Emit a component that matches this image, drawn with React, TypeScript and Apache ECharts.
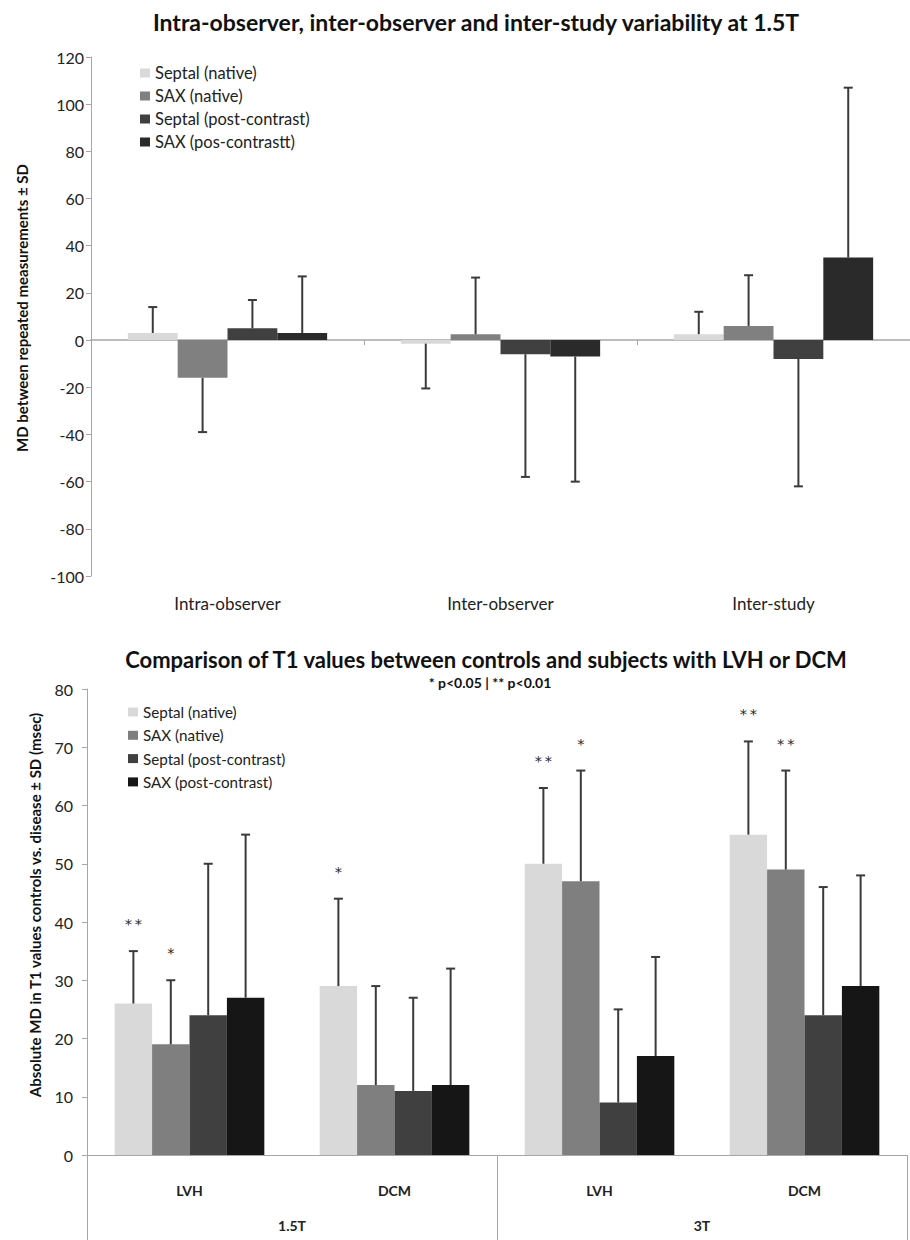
import React, { useEffect, useRef } from 'react';
import * as echarts from 'echarts';

// ---------- Top chart data ----------
const topCategories = ['Intra-observer', 'Inter-observer', 'Inter-study'];
const topSeriesNames = ['Septal (native)', 'SAX (native)', 'Septal (post-contrast)', 'SAX (pos-contrastt)'];
const topSeptalNative = [3, -1.5, 2.5];
const topSaxNative = [-16, 2.5, 6];
const topSeptalPost = [5, -6, -8];
const topSaxPost = [3, -7, 35];
const topSeptalNativeSD = [11, 19, 9.5];
const topSaxNativeSD = [23, 24, 21.5];
const topSeptalPostSD = [12, 52, 54];
const topSaxPostSD = [24, 53, 72];
const topYTicks = { min: -100, max: 120, interval: 20 };

// ---------- Bottom chart data ----------
const bottomCategories = ['LVH', 'DCM', 'LVH', 'DCM'];
const fieldStrengths = ['1.5T', '3T'];
const bottomSeriesNames = ['Septal (native)', 'SAX (native)', 'Septal (post-contrast)', 'SAX (post-contrast)'];
const botSeptalNative = [26, 29, 50, 55];
const botSaxNative = [19, 12, 47, 49];
const botSeptalPost = [24, 11, 9, 24];
const botSaxPost = [27, 12, 17, 29];
const botSeptalNativeSD = [9, 15, 13, 16];
const botSaxNativeSD = [11, 17, 19, 17];
const botSeptalPostSD = [26, 16, 16, 22];
const botSaxPostSD = [28, 20, 17, 19];
// number of asterisks (1: p<0.05, 2: p<0.01)
const botSeptalNativeStars = [2, 1, 2, 2];
const botSaxNativeStars = [1, 0, 1, 2];
const botSeptalPostStars = [0, 0, 0, 0];
const botSaxPostStars = [0, 0, 0, 0];
const bottomYTicks = { min: 0, max: 80, interval: 10 };

const topColors = ['#d9d9d9', '#808080', '#404040', '#2a2a2a'];
const bottomColors = ['#d9d9d9', '#7f7f7f', '#404040', '#161616'];

const FONT = 'Lato';
const AXIS_GRAY = '#a6a6a6';
const GAP = 0.27;

function errData(values: number[][], sds: number[][], stars?: number[][]) {
  const out: number[][] = [];
  values.forEach((vals, s) => {
    vals.forEach((v, c) => {
      const sign = v < 0 ? -1 : 1;
      out.push([c, s, v, v + sign * sds[s][c], stars ? stars[s][c] : 0]);
    });
  });
  return out;
}

const makeRender = (nSeries: number) => (params: any, api: any) => {
  const cat = api.value(0);
  const s = api.value(1);
  const mean = api.value(2);
  const end = api.value(3);
  const stars = api.value(4);
  const band = api.size([1, 0])[0];
  const groupW = band * (1 - GAP);
  const barW = groupW / nSeries;
  const base = api.coord([cat, mean]);
  const tip = api.coord([cat, end]);
  const x = base[0] - groupW / 2 + (s + 0.5) * barW;
  const children: any[] = [
    { type: 'line', shape: { x1: x, y1: base[1], x2: x, y2: tip[1] }, style: { stroke: '#3a3a3a', lineWidth: 2 } },
    { type: 'line', shape: { x1: x - 4.5, y1: tip[1], x2: x + 4.5, y2: tip[1] }, style: { stroke: '#3a3a3a', lineWidth: 2 } },
  ];
  if (stars > 0) {
    children.push({
      type: 'text',
      x,
      y: tip[1] - 27,
      style: {
        text: stars === 2 ? '*\u2009*' : '*',
        fill: '#2a2a2a',
        fontSize: 14.5,
        fontFamily: 'DejaVu Sans',
        align: 'center',
        verticalAlign: 'middle',
        textAlign: 'center',
        textVerticalAlign: 'middle',
      },
    });
  }
  return { type: 'group', children };
};

function buildOption() {
  const topVals = [topSeptalNative, topSaxNative, topSeptalPost, topSaxPost];
  const topSDs = [topSeptalNativeSD, topSaxNativeSD, topSeptalPostSD, topSaxPostSD];
  const botVals = [botSeptalNative, botSaxNative, botSeptalPost, botSaxPost];
  const botSDs = [botSeptalNativeSD, botSaxNativeSD, botSeptalPostSD, botSaxPostSD];
  const botStars = [botSeptalNativeStars, botSaxNativeStars, botSeptalPostStars, botSaxPostStars];

  const valueAxisCommon = (margin: number) => ({
    type: 'value',
    axisLine: { show: true, lineStyle: { color: AXIS_GRAY, width: 1 } },
    axisTick: { show: true, length: 5, lineStyle: { color: AXIS_GRAY } },
    splitLine: { show: false },
    axisLabel: { fontSize: 16, color: '#222', margin, fontFamily: FONT },
  });

  const boldText = (text: string, x: number, y: number, size: number, rot = 0) => ({
    type: 'text',
    x,
    y,
    rotation: rot,
    style: {
      text,
      fill: '#111',
      fontSize: size,
      fontWeight: 'bold',
      fontFamily: FONT,
      align: 'center',
      verticalAlign: 'middle',
      textAlign: 'center',
      textVerticalAlign: 'middle',
    },
  });

  const legendCommon = {
    orient: 'vertical',
    padding: 0,
    itemWidth: 10,
    itemHeight: 9,
    itemTextGap: 5,
    icon: 'rect',
    selectedMode: false,
  };

  return {
    animation: false,
    backgroundColor: '#ffffff',
    textStyle: { fontFamily: FONT },
    graphic: [
      boldText('Intra-observer, inter-observer and inter-study variability at 1.5T', 476, 22, 23),
      boldText('MD between repeated measurements ± SD', 22, 308, 15, Math.PI / 2),
      boldText('Comparison of T1 values between controls and subjects with LVH or DCM', 486, 659, 22),
      boldText('* p<0.05 | ** p<0.01', 490, 682, 14),
      boldText('Absolute MD in T1 values controls vs. disease ± SD (msec)', 35, 905, 15, Math.PI / 2),
    ],
    legend: [
      {
        ...legendCommon,
        left: 140,
        top: 64,
        itemGap: 5,
        textStyle: { fontSize: 16.5, color: '#222', lineHeight: 18, fontFamily: FONT },
        data: topSeriesNames.map((n, i) => ({ name: n, itemStyle: { color: topColors[i] } })),
      },
      {
        ...legendCommon,
        left: 128,
        top: 703,
        itemGap: 5.3,
        itemTextGap: 4,
        textStyle: { fontSize: 15.2, color: '#222', lineHeight: 18, fontFamily: FONT },
        data: bottomSeriesNames.map((n, i) => ({ name: n, itemStyle: { color: bottomColors[i] } })),
      },
    ],
    grid: [
      { left: 91, right: -9, top: 57, height: 519 },
      { left: 87, right: 3, top: 689, height: 466 },
    ],
    xAxis: [
      {
        gridIndex: 0,
        type: 'category',
        data: topCategories,
        axisLine: { onZero: true, lineStyle: { color: AXIS_GRAY, width: 1.5 } },
        axisTick: { show: true, length: 5, lineStyle: { color: AXIS_GRAY } },
        axisLabel: { show: false },
        splitLine: { show: false },
      },
      {
        gridIndex: 0,
        type: 'category',
        position: 'bottom',
        data: topCategories,
        axisLine: { show: false, onZero: false },
        axisTick: { show: false },
        axisLabel: { fontSize: 17, color: '#222', margin: 19, fontFamily: FONT },
        splitLine: { show: false },
      },
      {
        gridIndex: 1,
        type: 'category',
        data: bottomCategories,
        axisLine: { show: true, onZero: false, lineStyle: { color: AXIS_GRAY, width: 1 } },
        axisTick: { show: false },
        axisLabel: { fontSize: 14, fontWeight: 'bold', color: '#222', margin: 28, fontFamily: FONT },
        splitLine: { show: false },
      },
      {
        gridIndex: 1,
        type: 'category',
        position: 'bottom',
        data: fieldStrengths,
        axisLine: { show: false, onZero: false },
        axisTick: { show: true, length: 90, lineStyle: { color: AXIS_GRAY } },
        axisLabel: { fontSize: 14, fontWeight: 'bold', color: '#222', margin: 63, fontFamily: FONT },
        splitLine: { show: false },
      },
    ],
    yAxis: [
      { ...valueAxisCommon(7), gridIndex: 0, ...topYTicks },
      { ...valueAxisCommon(14), gridIndex: 1, ...bottomYTicks },
    ],
    series: [
      ...topVals.map((vals, i) => ({
        type: 'bar',
        name: topSeriesNames[i],
        xAxisIndex: 0,
        yAxisIndex: 0,
        data: vals,
        barGap: '0%',
        barCategoryGap: '27%',
        itemStyle: { color: topColors[i] },
      })),
      ...botVals.map((vals, i) => ({
        type: 'bar',
        name: bottomSeriesNames[i],
        xAxisIndex: 2,
        yAxisIndex: 1,
        data: vals,
        barGap: '0%',
        barCategoryGap: '27%',
        itemStyle: { color: bottomColors[i] },
      })),
      {
        type: 'custom',
        name: 'top-error',
        xAxisIndex: 0,
        yAxisIndex: 0,
        z: 5,
        clip: false,
        renderItem: makeRender(4),
        encode: { x: 0, y: [2, 3] },
        data: errData(topVals, topSDs),
      },
      {
        type: 'custom',
        name: 'bottom-error',
        xAxisIndex: 2,
        yAxisIndex: 1,
        z: 5,
        clip: false,
        renderItem: makeRender(4),
        encode: { x: 0, y: [2, 3] },
        data: errData(botVals, botSDs, botStars),
      },
    ],
  };
}

export default function App() {
  const ref = useRef<HTMLDivElement>(null);
  useEffect(() => {
    if (!ref.current) return;
    const chart = echarts.init(ref.current, null, { renderer: 'svg' });
    chart.setOption(buildOption() as any);
    return () => chart.dispose();
  }, []);
  return (
    <div
      ref={ref}
      style={{ position: 'absolute', left: 0, top: 0, width: 910, height: 1240, background: '#fff' }}
    />
  );
}
